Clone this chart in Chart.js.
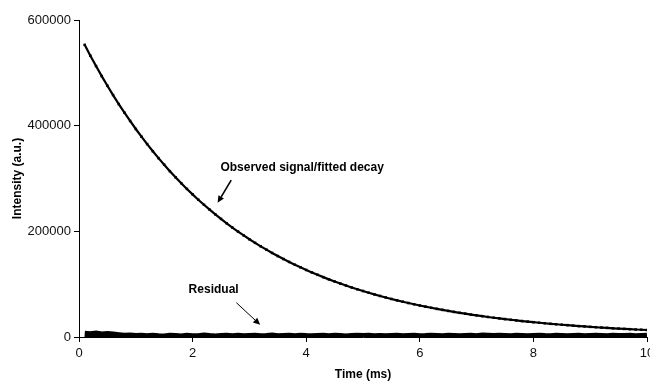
<!DOCTYPE html>
<html>
<head>
<meta charset="utf-8">
<script src="https://cdn.jsdelivr.net/npm/chart.js@4"></script>
<style>
  html, body { margin: 0; padding: 0; background: #fff; overflow: hidden; }
  #wrap { width: 660px; height: 383px; }
</style>
</head>
<body>
<div id="wrap"><canvas id="decayChart" width="660" height="383"></canvas></div>
<script>
// ---- Data ----
const timeMs = [
  0.1, 0.2, 0.3, 0.4, 0.5, 0.6, 0.7, 0.8, 0.9, 1.0,
  1.1, 1.2, 1.3, 1.4, 1.5, 1.6, 1.7, 1.8, 1.9, 2.0,
  2.1, 2.2, 2.3, 2.4, 2.5, 2.6, 2.7, 2.8, 2.9, 3.0,
  3.1, 3.2, 3.3, 3.4, 3.5, 3.6, 3.7, 3.8, 3.9, 4.0,
  4.1, 4.2, 4.3, 4.4, 4.5, 4.6, 4.7, 4.8, 4.9, 5.0,
  5.1, 5.2, 5.3, 5.4, 5.5, 5.6, 5.7, 5.8, 5.9, 6.0,
  6.1, 6.2, 6.3, 6.4, 6.5, 6.6, 6.7, 6.8, 6.9, 7.0,
  7.1, 7.2, 7.3, 7.4, 7.5, 7.6, 7.7, 7.8, 7.9, 8.0,
  8.1, 8.2, 8.3, 8.4, 8.5, 8.6, 8.7, 8.8, 8.9, 9.0,
  9.1, 9.2, 9.3, 9.4, 9.5, 9.6, 9.7, 9.8, 9.9, 10.0
];

const observed = [
  553000, 532500, 512800, 493800, 475500, 457900, 440900, 424600, 408900, 393700,
  379100, 365100, 351600, 338500, 326000, 313900, 302300, 291100, 280300, 269900,
  259900, 250300, 241000, 232100, 223500, 215200, 207200, 199600, 192200, 185000,
  178200, 171600, 165300, 159100, 153200, 147600, 142100, 136800, 131800, 126900,
  122200, 117700, 113300, 109100, 105100, 101200,  97400,  93800,  90300,  87000,
   83800,  80700,  77700,  74800,  72000,  69400,  66800,  64300,  61900,  59600,
   57400,  55300,  53300,  51300,  49400,  47500,  45800,  44100,  42400,  40900,
   39400,  37900,  36500,  35200,  33900,  32600,  31400,  30200,  29100,  28000,
   27000,  26000,  25000,  24100,  23200,  22400,  21500,  20700,  20000,  19200,
   18500,  17800,  17200,  16500,  15900,  15300,  14800,  14200,  13700,  13200
];

const residual = [
  5200, 4400, 5600, 4000, 4800, 3600, 2600, 1400, 2000,  800,
  1200,  400, 1600,  600,  200, 1400,  800,    0, 1200,  600,
   400, 1800,  800,  200, 1000, 1600,  600, 1200,  400,  800,
  1400,  600, 1000, 1800,  400,  800, 1200,  600, 1600,  800,
   400, 1000, 1400,  600, 1200,  800,  200, 1000, 1600,  800,
  1200,  600, 1000,  400,  800, 1400,  600, 1000, 1200,  400,
   800, 1600, 1000,  600, 1200,  800,  400, 1000, 1400,  600,
  1800, 1200,  800, 1600, 1000,  600, 1200,  800,  400, 1000,
  1400,  800,  600, 1200, 1000,  400,  800, 1400,  600, 1000,
  1200,  800,  600, 1400, 1000,  800, 1200,  600, 1000, 1400
];

const xTicks = [0, 2, 4, 6, 8, 10];
const yTicks = [0, 200000, 400000, 600000];

// annotation text + arrow, anchored in data units
const notes = [
  { text: 'Observed signal/fitted decay', at: [2.49, 320000], from: [2.68, 297000], to: [2.44, 254000], lw: 1.6 },
  { text: 'Residual',                     at: [1.93,  89000], from: [2.77,  65000], to: [3.19,  23000], lw: 1 }
];

const FONT = 'Liberation Sans, Arial, sans-serif';

const toPoints = (xs, ys) => xs.map((x, i) => ({ x: x, y: ys[i] }));

// ---- Annotation plugin ----
const notesPlugin = {
  id: 'notes',
  afterDatasetsDraw(chart) {
    const { ctx, scales: { x, y } } = chart;
    ctx.save();
    ctx.fillStyle = '#000';
    ctx.strokeStyle = '#000';
    ctx.font = 'bold 12px ' + FONT;
    ctx.textBaseline = 'middle';
    notes.forEach(n => {
      ctx.fillText(n.text, x.getPixelForValue(n.at[0]), y.getPixelForValue(n.at[1]));
      const x1 = x.getPixelForValue(n.from[0]), y1 = y.getPixelForValue(n.from[1]);
      const x2 = x.getPixelForValue(n.to[0]),   y2 = y.getPixelForValue(n.to[1]);
      const a = Math.atan2(y2 - y1, x2 - x1);
      const head = 7, half = 3.2;
      const bx = x2 - head * Math.cos(a), by = y2 - head * Math.sin(a);
      ctx.lineWidth = n.lw;
      ctx.beginPath();
      ctx.moveTo(x1, y1);
      ctx.lineTo(bx, by);
      ctx.stroke();
      ctx.beginPath();
      ctx.moveTo(x2, y2);
      ctx.lineTo(bx - half * Math.sin(a), by + half * Math.cos(a));
      ctx.lineTo(bx + half * Math.sin(a), by - half * Math.cos(a));
      ctx.closePath();
      ctx.fill();
    });
    ctx.restore();
  }
};

// ---- Chart ----
new Chart(document.getElementById('decayChart'), {
  type: 'line',
  data: {
    datasets: [
      {
        label: 'Observed signal/fitted decay',
        data: toPoints(timeMs, observed),
        borderColor: '#000',
        backgroundColor: '#000',
        borderWidth: 2.2,
        pointStyle: 'rect',
        pointRadius: 1.8,
        pointBorderWidth: 0,
        tension: 0
      },
      {
        label: 'Residual',
        data: toPoints(timeMs, residual),
        borderColor: '#000',
        borderWidth: 7,
        borderJoinStyle: 'miter',
        borderCapStyle: 'butt',
        pointRadius: 0,
        tension: 0
      }
    ]
  },
  options: {
    responsive: false,
    animation: false,
    layout: { padding: { top: 20, right: 13, left: 0, bottom: 0 } },
    plugins: { legend: { display: false }, tooltip: { enabled: false } },
    scales: {
      x: {
        type: 'linear',
        min: 0, max: 10,
        afterFit: s => { s.height = 46; },
        afterBuildTicks: s => { s.ticks = xTicks.map(v => ({ value: v })); },
        grid: { drawOnChartArea: false, color: '#000', tickLength: 5 },
        border: { color: '#000', width: 1 },
        ticks: { color: '#111', padding: 4, font: { family: FONT, size: 13 }, maxRotation: 0 },
        title: { display: true, text: 'Time (ms)', color: '#000', font: { family: FONT, size: 12, weight: 'bold' }, padding: { top: 2, bottom: 1 } }
      },
      y: {
        min: 0, max: 600000,
        afterFit: s => { s.width = 79; },
        afterBuildTicks: s => { s.ticks = yTicks.map(v => ({ value: v })); },
        grid: { drawOnChartArea: false, color: '#000', tickLength: 5 },
        border: { color: '#000', width: 1 },
        ticks: { color: '#111', padding: 3, font: { family: FONT, size: 13 }, callback: v => String(v) },
        title: { display: true, text: 'Intensity (a.u.)', color: '#000', font: { family: FONT, size: 12, weight: 'bold' }, padding: { top: 10, bottom: 0 } }
      }
    }
  },
  plugins: [notesPlugin]
});
</script>
</body>
</html>
